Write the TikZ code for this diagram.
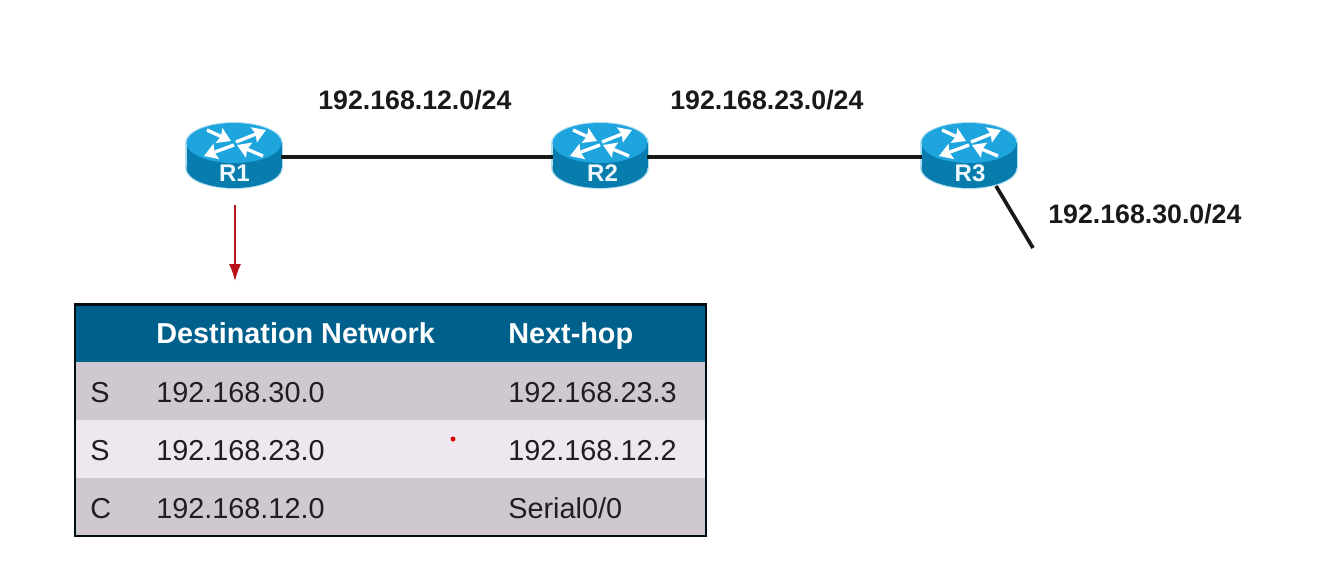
\documentclass[tikz,border=0pt]{standalone}
\usepackage{fontspec}
\setmainfont{Liberation Sans}
\usetikzlibrary{arrows.meta,positioning,fit,calc,shapes.geometric}
\definecolor{NetHead}{RGB}{0,96,140}
\definecolor{NetDark}{RGB}{207,200,208}
\definecolor{NetLight}{RGB}{239,231,240}
\definecolor{NetText}{RGB}{30,30,34}
\definecolor{NetRed}{RGB}{185,20,30}
\definecolor{RouterTop}{RGB}{30,165,222}
\definecolor{RouterSide}{RGB}{8,124,172}
\definecolor{RouterGlow}{RGB}{176,222,242}
\tikzset{
  net/routerbox/.style={minimum width=1.9cm, minimum height=0.9cm, inner sep=0pt, outer sep=0pt},
  net/routername/.style={font=\fontsize{13.7pt}{15pt}\selectfont\bfseries, text=white!92!RouterTop, anchor=base, inner sep=0pt},
  net/link/.style={line width=2.1pt, draw=black!90},
  net/redarrow/.style={-{Latex[length=3.4mm,width=2.4mm]}, line width=0.8pt, draw=NetRed},
  net/netlabel/.style={font=\fontsize{15.2pt}{17pt}\selectfont\bfseries, text=black!90, anchor=base west, inner sep=0pt},
  net/band/.style={minimum width=12.62cm, minimum height=1.16cm, inner sep=0pt, outer sep=0pt},
  net/headcell/.style={font=\fontsize{16.4pt}{18pt}\selectfont\bfseries, text=white, anchor=base west, inner sep=0pt},
  net/cell/.style={font=\fontsize{16.4pt}{18pt}\selectfont, text=NetText, anchor=base west, inner sep=0pt},
  net/frame/.style={draw=black!85!NetHead, line width=1.2pt, inner sep=0pt},
  net/turn/.style={-{Stealth[length=2.6mm,width=3.2mm,inset=0.4mm]}, white, line width=1.9pt}
}
% router body and its white arrows, #1 name, #2 centre
\newcommand{\router}[2]{
  \node[net/routerbox] (#1) at (#2) {};
  \begin{scope}[shift={(#2)}]
    \fill[RouterGlow] (0,11) ellipse (49 and 21);
    \fill[RouterGlow] (-49,-14) rectangle (49,11);
    \fill[RouterGlow] (0,-14) ellipse (49 and 21);
    \fill[RouterSide] (0,11) ellipse (47.5 and 20);
    \fill[RouterSide] (-47.5,-14) rectangle (47.5,11);
    \fill[RouterTop] (0,-14) ellipse (47.5 and 20);
    \draw[net/turn] (-27,-27) -- (-3,-16);
    \draw[net/turn] (2,-15) -- (32,-27);
    \draw[net/turn] (0,-12) -- (-30,-1);
    \draw[net/turn] (29,-1) -- (3,-12);
  \end{scope}
}
\begin{document}
\begin{tikzpicture}[x=0.02cm,y=-0.02cm]
  \useasboundingbox (0,0) rectangle (1328,586);

  % routers
  \router{R1}{234,157}
  \router{R2}{600,157}
  \router{R3}{969,157}
  \node[net/routername] (R1name) at (234.5,181) {R1};
  \node[net/routername] (R2name) at (602.5,181) {R2};
  \node[net/routername] (R3name) at (970,181) {R3};

  % links
  \draw[net/link] (R1.east) -- (R2.west);
  \draw[net/link] (R2.east) -- (R3.west);
  \coordinate (R3stub) at (1033,248);
  \coordinate (R3foot) at (996,186);
  \draw[net/link] (R3foot) -- (R3stub);

  % network labels
  \node[net/netlabel] (lanA) at (318,109) {192.168.12.0/24};
  \node[net/netlabel] (lanB) at (670,109) {192.168.23.0/24};
  \node[net/netlabel] (lanC) at (1048,223) {192.168.30.0/24};

  % routing table
  \node[net/band,fill=NetHead] (headrow) at (390.5,333.5) {};
  \node[net/band,fill=NetDark] (rowA) at (390.5,391) {};
  \node[net/band,fill=NetLight] (rowB) at (390.5,449) {};
  \node[net/band,fill=NetDark] (rowC) at (390.5,507) {};
  \node[net/frame,fit=(headrow)(rowC)] (routes) {};

  \node[net/headcell] (hdest) at (156,343) {Destination Network};
  \node[net/headcell] (hnext) at (508,343) {Next-hop};
  \node[net/cell] (typeA) at (90,402) {S};
  \node[net/cell] (destA) at (156,402) {192.168.30.0};
  \node[net/cell] (nextA) at (508,402) {192.168.23.3};
  \node[net/cell] (typeB) at (90,460) {S};
  \node[net/cell] (destB) at (156,460) {192.168.23.0};
  \node[net/cell] (nextB) at (508,460) {192.168.12.2};
  \node[net/cell] (typeC) at (90,518) {C};
  \node[net/cell] (destC) at (156,518) {192.168.12.0};
  \node[net/cell] (nextC) at (508,518) {Serial0/0};

  % arrow from R1 to its table
  \coordinate (tabletail) at (235,205);
  \coordinate (tabletip) at (235,281);
  \draw[net/redarrow] (tabletail) -- (tabletip);

  % pointer dot
  \fill[red!85!black] (453,439) circle (2.5);
\end{tikzpicture}
\end{document}
